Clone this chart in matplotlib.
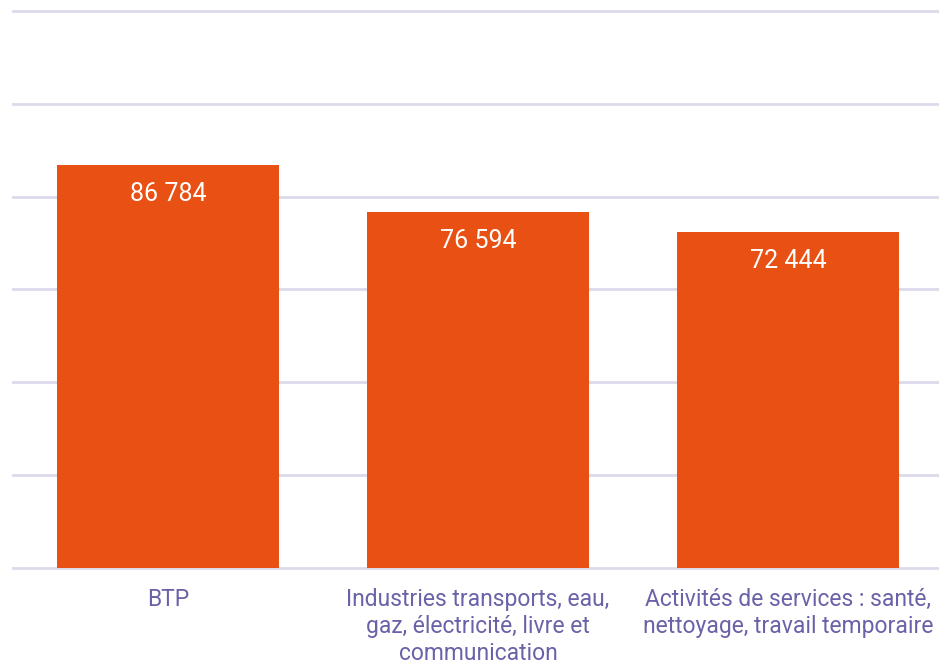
import matplotlib
matplotlib.use("Agg")
import matplotlib.pyplot as plt

categories = ["BTP",
              "Industries transports, eau,\ngaz, électricité, livre et\ncommunication",
              "Activités de services : santé,\nnettoyage, travail temporaire"]
values = [86784, 76594, 72444]
value_labels = ["86 784", "76 594", "72 444"]
yticks = [0, 20000, 40000, 60000, 80000, 100000, 120000]

bar_color = "#E85113"
grid_color = "#DCDAEA"
label_color = "#6A62A8"

plt.rcParams['font.family'] = ['Roboto', 'DejaVu Sans']

fig = plt.figure(figsize=(9.39, 6.68), dpi=100)
ax = fig.add_axes([13/939, 100/668, 930/939, 557/668])
x = list(range(len(categories)))
bars = ax.bar(x, values, width=0.716, color=bar_color, zorder=3)
ax.set_xlim(-0.5, 2.5)
ax.set_ylim(0, 120000)
ax.set_yticks(yticks)
ax.tick_params(axis='y', left=False, labelleft=False)
ax.tick_params(axis='x', bottom=False, pad=11)
ax.set_xticks(x)
ax.set_xticklabels(categories, fontsize=16.5, color=label_color, fontweight='normal',
                   linespacing=1.22, va='top')
ax.grid(axis='y', color=grid_color, linewidth=2, zorder=0)
for gl in ax.get_ygridlines():
    gl.set_clip_on(False)
for s in ax.spines.values():
    s.set_visible(False)

for xi, v, lab in zip(x, values, value_labels):
    ax.annotate(lab, (xi, v), xytext=(0, -29), textcoords='offset pixels',
                ha='center', va='center', color='white', fontsize=18,
                fontweight='normal', zorder=4)

fig.savefig("out.png", dpi=100)
